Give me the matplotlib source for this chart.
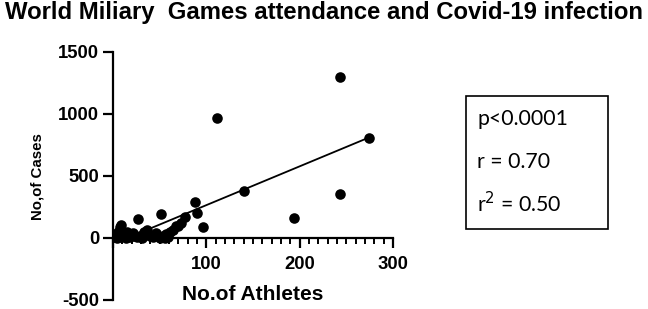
import matplotlib
matplotlib.use("Agg")
import matplotlib.pyplot as plt
from matplotlib.ticker import MultipleLocator, FixedLocator
from matplotlib.patches import Rectangle

# ---- data ----
athletes = [1, 2, 3, 4, 5, 6, 7.5, 9, 10, 12, 14, 15, 18, 21, 24, 26, 27, 29, 31,
            33, 36, 40, 43, 46, 47, 50, 51, 54, 56, 57, 59, 61, 64, 68, 70, 73,
            77, 88, 90, 96, 111, 140, 194, 243, 243, 274]
cases = [5, 18, 30, 0, 45, 10, 85, 105, 40, 20, 0, 45, 10, 40, 15, 5, 150, 15, 0,
         45, 66, 20, 5, 40, 24, 0, 196, 15, 0, 35, 10, 50, 65, 98, 93, 120,
         173, 290, 204, 85, 970, 383, 159, 1300, 355, 810]

fit_slope = 3.13
fit_intercept = -48.0
fit_x_range = [16, 274]

stats_lines = ["p<0.0001", "r = 0.70", "r$^{2}$ = 0.50"]

title = "World Miliary  Games attendance and Covid-19 infection"
xlabel = "No.of Athletes"
ylabel = "No,of Cases"
xticks = [0, 100, 200, 300]
xtick_labels = ["", "100", "200", "300"]
yticks = [-500, 0, 500, 1000, 1500]
ytick_labels = ["-500", "0", "500", "1000", "1500"]

# ---- figure ----
W, H = 648, 309
fig = plt.figure(figsize=(W / 100, H / 100), dpi=100)
ax = fig.add_axes([113 / W, (H - 300) / H, 280 / W, 248 / H])
ax.set_xlim(0, 300)
ax.set_ylim(-500, 1500)

ax.scatter(athletes, cases, s=58, color="black", zorder=3, linewidths=0)
fx = fit_x_range
fy = [fit_slope * v + fit_intercept for v in fx]
ax.plot(fx, fy, color="black", lw=1.3, zorder=2)

for s in ["top", "right"]:
    ax.spines[s].set_visible(False)
ax.spines["bottom"].set_position(("data", 0))
ax.spines["left"].set_bounds(-500, 1500)
ax.spines["bottom"].set_bounds(0, 300)
for s in ["left", "bottom"]:
    ax.spines[s].set_linewidth(1.6)

ax.xaxis.set_major_locator(FixedLocator(xticks))
ax.set_xticklabels(xtick_labels)
ax.xaxis.set_minor_locator(MultipleLocator(10))
ax.yaxis.set_major_locator(FixedLocator(yticks))
ax.set_yticklabels(ytick_labels)

ax.tick_params(axis="x", which="major", direction="out", length=7, width=1.6, pad=6)
ax.tick_params(axis="x", which="minor", direction="out", length=4, width=1.4)
ax.tick_params(axis="y", which="major", direction="out", length=7, width=1.6, pad=3)
for lab in ax.get_xticklabels() + ax.get_yticklabels():
    lab.set_fontfamily("Liberation Sans")
    lab.set_fontweight("bold")
    lab.set_fontsize(13.3)

ax.patch.set_alpha(0)

fig.text(253 / W, 1 - 294 / H, xlabel, ha="center", va="center",
         family="Liberation Sans", weight="bold", fontsize=15)
fig.text(37 / W, 1 - 177 / H, ylabel, ha="center", va="center", rotation=90,
         family="Liberation Sans", weight="bold", fontsize=10.8)
fig.text(0.5, 1 - 12 / H, title, ha="center", va="center",
         family="Liberation Sans", weight="bold", fontsize=17.2)

# stats box
fig.patches.append(Rectangle((466 / W, 1 - 229 / H), (608 - 466) / W, (229 - 96) / H,
                             transform=fig.transFigure, fill=False,
                             edgecolor="black", lw=1.2))
baselines = [125, 168, 212]
for txt, b in zip(stats_lines, baselines):
    fig.text(477 / W, 1 - b / H, txt, ha="left", va="baseline",
             family="Lato", fontsize=15.3)

fig.savefig("out.png", dpi=100)
